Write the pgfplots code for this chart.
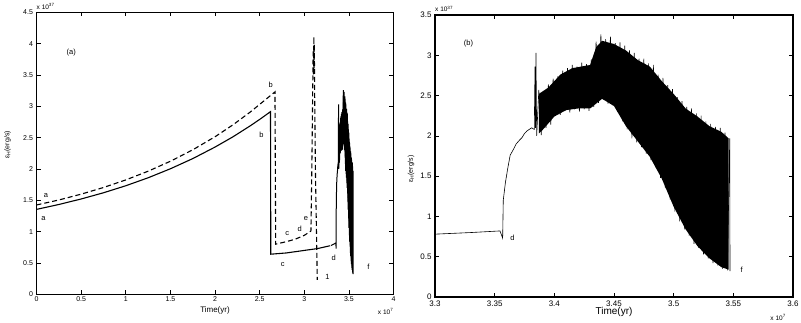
\documentclass[border=0pt]{standalone}
\usepackage{pgfplots}
\pgfplotsset{compat=1.18}
\usepackage{pgfplotstable}
\usepackage{fontspec}
\setmainfont{Liberation Sans}

\pgfplotstableread{
x y
0 1.355
0.25 1.433
0.5 1.521
0.75 1.620
1.0 1.732
1.25 1.859
1.5 2.003
1.75 2.165
2.0 2.349
2.2 2.512
2.4 2.693
2.52 2.81
2.622 2.915
2.625 0.64
2.8 0.66
3.0 0.70
3.15 0.73
3.29 0.775
}\solidearly

\pgfplotstableread{
x y
0 1.425
0.25 1.505
0.5 1.598
0.75 1.704
1.0 1.825
1.25 1.964
1.5 2.123
1.75 2.305
2.0 2.514
2.2 2.703
2.4 2.914
2.55 3.088
2.672 3.23
2.68 0.80
2.8 0.84
2.9 0.88
3.0 0.94
3.075 1.01
3.085 2.0
3.095 3.3
3.100 3.9
3.104 3.5
3.108 4.11
3.111 3.6
3.113 4.0
3.116 3.3
3.125 2.0
3.146 0.23
}\dashed

\pgfplotstableread{
x y
3.300 0.78
3.330 0.80
3.3545 0.82
3.3567 0.73
3.3572 1.20
3.359 1.42
3.361 1.60
3.363 1.76
3.366 1.84
3.368 1.90
3.371 1.95
3.373 1.98
3.375 2.03
3.377 2.06
3.379 2.08
3.381 2.10
3.3832 2.08
3.3838 2.86
3.3842 2.10
3.3846 3.03
3.3852 2.00
3.387 2.57
3.389 2.01
3.391 2.52
3.393 2.10
3.395 2.64
3.397 2.14
3.399 2.71
3.401 2.25
3.403 2.74
3.405 2.26
3.407 2.81
3.409 2.31
3.411 2.84
3.413 2.29
3.415 2.88
3.417 2.33
3.419 2.86
3.421 2.30
3.423 2.91
3.425 2.33
3.427 2.89
3.429 2.31
3.431 2.95
3.433 2.36
3.435 3.17
3.437 2.41
3.439 3.26
3.441 2.45
3.443 3.20
3.445 2.40
3.447 3.23
3.449 2.38
3.451 3.15
3.453 2.30
3.455 3.16
3.457 2.18
3.459 3.12
3.461 2.08
3.463 3.06
3.465 1.97
3.467 3.03
3.469 1.92
3.471 2.96
3.473 1.86
3.475 2.96
3.477 1.78
3.479 2.90
3.481 1.70
3.483 2.88
3.485 1.61
3.487 2.76
3.489 1.48
3.491 2.72
3.493 1.35
3.495 2.63
3.497 1.21
3.499 2.58
3.501 1.06
3.503 2.48
3.505 0.94
3.507 2.43
3.509 0.84
3.511 2.36
3.513 0.76
3.515 2.34
3.517 0.66
3.519 2.28
3.521 0.61
3.523 2.25
3.525 0.53
3.527 2.18
3.529 0.48
3.531 2.15
3.533 0.42
3.535 2.11
3.537 0.39
3.539 2.10
3.541 0.35
3.543 2.04
3.545 0.33
3.547 1.97
3.5472 0.32
}\late

\pgfplotstableread{
x y
3.387 2.52
3.395 2.60
3.405 2.76
3.415 2.84
3.430 2.88
3.435 3.10
3.440 3.18
3.450 3.14
3.460 3.06
3.470 2.94
3.480 2.86
3.490 2.68
3.500 2.52
3.510 2.34
3.520 2.24
3.530 2.12
3.540 2.05
3.546 1.97
3.546 0.34
3.540 0.37
3.530 0.48
3.520 0.63
3.510 0.84
3.500 1.12
3.490 1.47
3.480 1.74
3.470 1.93
3.460 2.12
3.450 2.37
3.440 2.46
3.430 2.34
3.420 2.34
3.410 2.32
3.400 2.24
3.390 2.07
3.387 2.03
}\envelope

\pgfplotsset{
  mat/.style={
    scale only axis,
    axis line style={line width=1.1pt},
    tick align=inside,
    major tick length=4pt,
    tick style={black, line width=0.6pt},
    /pgf/number format/assume math mode=true,
    /pgf/number format/fixed,
    /pgf/number format/precision=2,
    scaled ticks=false,
    clip mode=individual,
  }
}

\begin{document}
\begin{tikzpicture}
\useasboundingbox (0,0) rectangle (801pt,322pt);

% ---- left panel (a)
\begin{axis}[mat,
  at={(36.5pt,27.7pt)}, anchor=south west,
  width=357pt, height=282pt,
  xmin=0, xmax=4, ymin=0, ymax=4.5,
  xtick={0,0.5,1,1.5,2,2.5,3,3.5,4},
  ytick={0,0.5,1,1.5,2,2.5,3,3.5,4,4.5},
  ticklabel style={font=\fontsize{7}{8}\selectfont},
  xticklabel style={yshift=1pt},
  xlabel={Time(yr)},
  xlabel style={font=\fontsize{8}{9}\selectfont, at={(axis description cs:0.5,-0.056)}, anchor=center},
  ylabel={ε\textsubscript{H}(erg/s)},
  ylabel style={font=\fontsize{7}{8}\selectfont, at={(axis description cs:-0.081,0.53)}, anchor=center},
]
\addplot[black, line width=1.1pt] table {\solidearly};
\addplot[black, fill=black, draw=none] table {\envelope} -- cycle;
\addplot[black, line width=1.0pt] table {\late};
\addplot[black, line width=1.1pt, dash pattern=on 5pt off 3pt] table {\dashed};
\node[font=\fontsize{7.5}{8}\selectfont] at (axis cs:0.39,3.86) {(a)};
\node[font=\fontsize{7.5}{8}\selectfont] at (axis cs:0.106,1.58) {a};
\node[font=\fontsize{7.5}{8}\selectfont] at (axis cs:0.077,1.21) {a};
\node[font=\fontsize{7.5}{8}\selectfont] at (axis cs:2.624,3.34) {b};
\node[font=\fontsize{7.5}{8}\selectfont] at (axis cs:2.52,2.54) {b};
\node[font=\fontsize{7.5}{8}\selectfont] at (axis cs:2.81,0.97) {c};
\node[font=\fontsize{7.5}{8}\selectfont] at (axis cs:2.95,1.04) {d};
\node[font=\fontsize{7.5}{8}\selectfont] at (axis cs:3.02,1.21) {e};
\node[font=\fontsize{7.5}{8}\selectfont] at (axis cs:2.76,0.47) {c};
\node[font=\fontsize{7.5}{8}\selectfont] at (axis cs:3.33,0.59) {d};
\node[font=\fontsize{7.5}{8}\selectfont] at (axis cs:3.26,0.28) {1};
\node[font=\fontsize{7.5}{8}\selectfont] at (axis cs:3.72,0.44) {f};
\node[font=\fontsize{6.5}{7}\selectfont, anchor=south west, inner sep=0pt] at (rel axis cs:0,1) [yshift=3pt] {x 10\textsuperscript{37}};
\node[font=\fontsize{6.5}{7}\selectfont, anchor=base east, inner sep=0pt] at (rel axis cs:1,0) [yshift=-20pt] {x 10\textsuperscript{7}};
\end{axis}

% ---- right panel (b)
\begin{axis}[mat,
  at={(435pt,25pt)}, anchor=south west,
  width=358pt, height=282pt,
  xmin=3.3, xmax=3.6, ymin=0, ymax=3.5,
  xtick={3.3,3.35,3.4,3.45,3.5,3.55,3.6},
  ytick={0,0.5,1,1.5,2,2.5,3,3.5},
  ticklabel style={font=\fontsize{8}{9}\selectfont},
  xlabel={Time(yr)},
  xlabel style={font=\fontsize{10}{11}\selectfont, at={(axis description cs:0.5,-0.053)}, anchor=center},
  ylabel={ε\textsubscript{H}(erg/s)},
  ylabel style={font=\fontsize{7}{8}\selectfont, at={(axis description cs:-0.067,0.454)}, anchor=center},
]
\addplot[black, fill=black, draw=none] table {\envelope} -- cycle;
\addplot[black, line width=0.6pt] table {\late};
\node[font=\fontsize{7.5}{8}\selectfont] at (axis cs:3.328,3.15) {(b)};
\node[font=\fontsize{7.5}{8}\selectfont] at (axis cs:3.365,0.73) {d};
\node[font=\fontsize{7.5}{8}\selectfont] at (axis cs:3.557,0.335) {f};
\node[font=\fontsize{6.5}{7}\selectfont, anchor=south west, inner sep=0pt] at (rel axis cs:0,1) [yshift=3pt] {x 10\textsuperscript{37}};
\node[font=\fontsize{6.5}{7}\selectfont, anchor=base east, inner sep=0pt] at (rel axis cs:1,0) [xshift=-7pt, yshift=-23.5pt] {x 10\textsuperscript{7}};
\end{axis}
\end{tikzpicture}
\end{document}
